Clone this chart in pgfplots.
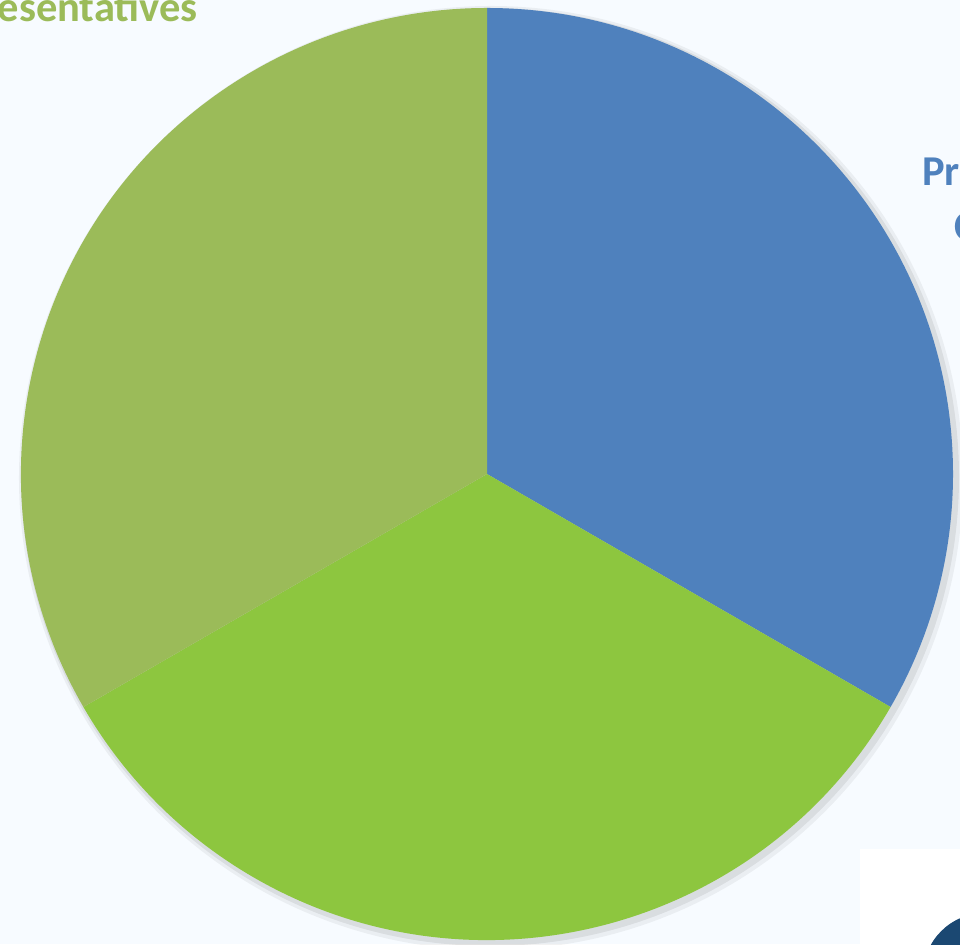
\documentclass[border=0pt]{standalone}
\usepackage{pgfplots}
\pgfplotsset{compat=1.18}
\usepackage{fontspec}
\setmainfont{Carlito}
\definecolor{bgblue}{HTML}{F7FBFF}
\definecolor{sliceblue}{HTML}{4F81BD}
\definecolor{slicegreen}{HTML}{8DC63F}
\definecolor{sliceolive}{HTML}{9BBB59}
\definecolor{navy}{HTML}{1B4872}

% slice shares (equal thirds), drawn clockwise from 12 o'clock
\def\va{1}\def\vb{1}\def\vc{1}

\begin{document}
\begin{tikzpicture}
\begin{axis}[
    width=960bp, height=944bp, scale only axis,
    hide axis, clip=false,
    xmin=0, xmax=960, ymin=0, ymax=944,
]
\fill[bgblue] (axis cs:0,0) rectangle (axis cs:960,944);

\pgfmathsetmacro\tot{\va+\vb+\vc}
\pgfmathsetmacro\aa{90}
\pgfmathsetmacro\ab{\aa-360*\va/\tot}
\pgfmathsetmacro\ac{\ab-360*\vb/\tot}
\pgfmathsetmacro\ad{\ac-360*\vc/\tot}

% soft shadow
\fill[black, opacity=0.07] (axis cs:490,467) circle[radius=469bp];
\fill[black, opacity=0.05] (axis cs:491,466) circle[radius=472bp];

\fill[sliceblue] (axis cs:487,470) -- ++(\aa:466bp) arc[start angle=\aa, end angle=\ab, radius=466bp] -- cycle;
\fill[slicegreen] (axis cs:487,470) -- ++(\ab:466bp) arc[start angle=\ab, end angle=\ac, radius=466bp] -- cycle;
\fill[sliceolive] (axis cs:487,470) -- ++(\ac:466bp) arc[start angle=\ac, end angle=\ad, radius=466bp] -- cycle;

\node[anchor=base east, inner sep=0pt, text=sliceolive, font=\bfseries\fontsize{42.5bp}{50bp}\selectfont]
    at (axis cs:198,922) {Sales Representatives};
\node[anchor=base west, inner sep=0pt, text=sliceblue, font=\bfseries\fontsize{42.5bp}{50bp}\selectfont]
    at (axis cs:922,758) {Product};
\node[anchor=base west, inner sep=0pt, text=sliceblue, font=\bfseries\fontsize{42.5bp}{50bp}\selectfont]
    at (axis cs:954,703) {Consultants};

\fill[white] (axis cs:860,0) rectangle (axis cs:960,95);
\fill[navy] (axis cs:985,-31) circle[radius=62bp];
\end{axis}
\pgfresetboundingbox
\path[use as bounding box] (current axis.south west) rectangle (current axis.north east);
\end{tikzpicture}
\end{document}
